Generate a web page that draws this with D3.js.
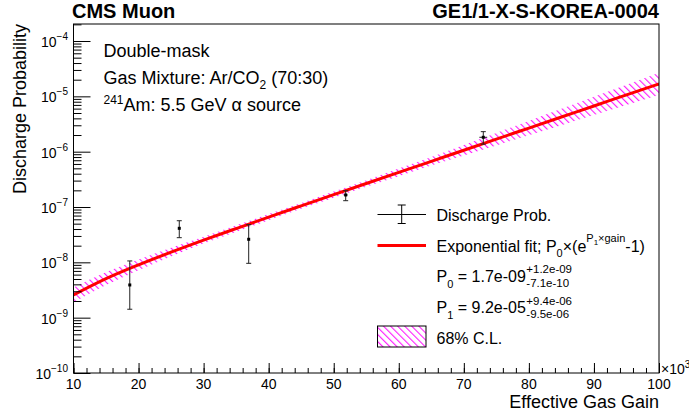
<!DOCTYPE html>
<html><head><meta charset="utf-8">
<script src="https://cdn.jsdelivr.net/npm/d3@7"></script>
<style>
html,body{margin:0;padding:0;background:#fff;}
text{font-family:"Liberation Sans",Arial,Helvetica,sans-serif;white-space:pre;fill:#000;}
</style></head>
<body>
<svg id="c" width="689" height="415"></svg>
<script>
// ---------- data ----------
const gain      = [18.65, 26.26, 36.93, 51.84, 72.99];          // x10^3
const prob      = [3.9e-9, 4.12e-8, 2.61e-8, 1.65e-7, 1.82e-6];
const probHigh  = [1.06e-8, 5.65e-8, 4.8e-8, 1.97e-7, 2.30e-6];
const probLow   = [1.42e-9, 2.79e-8, 9.6e-9, 1.30e-7, 1.37e-6];
const gainErr   = [0, 0, 0, 0.3, 0.6];

const fitGain   = [10,15,20,25,30,35,40,45,50,55,60,65,70,75,80,85,90,95,100];
const fitProb   = [2.566e-9,5.06e-9,9.00e-9,1.526e-8,2.516e-8,4.08e-8,6.57e-8,1.050e-7,1.674e-7,2.662e-7,
                   4.226e-7,6.70e-7,1.063e-6,1.685e-6,2.670e-6,4.23e-6,6.70e-6,1.062e-5,1.682e-5];
const bandUp    = [3.50e-9,6.59e-9,1.12e-8,1.83e-8,2.90e-8,4.68e-8,7.46e-8,1.183e-7,1.90e-7,3.06e-7,
                   4.97e-7,8.00e-7,1.323e-6,2.185e-6,3.60e-6,5.95e-6,9.80e-6,1.618e-5,2.67e-5];
const bandLo    = [1.88e-9,3.88e-9,7.23e-9,1.275e-8,2.18e-8,3.55e-8,5.79e-8,9.32e-8,1.475e-7,2.32e-7,
                   3.60e-7,5.61e-7,8.54e-7,1.299e-6,1.979e-6,3.01e-6,4.58e-6,6.97e-6,1.061e-5];

const xTicks    = [10,20,30,40,50,60,70,80,90,100];
const yDecades  = [-10,-9,-8,-7,-6,-5,-4];
const xRange    = [10, 100];
const yRange    = [1e-10, 2.03e-4];

// ---------- layout ----------
const L = 73.5, R = 659, T = 24, B = 373;
const svg = d3.select('#c');
svg.append('rect').attr('width',689).attr('height',415).attr('fill','#fff');

const x = d3.scaleLinear().domain(xRange).range([L, R]);
const y = d3.scaleLog().domain(yRange).range([B, T]);

const defs = svg.append('defs');
defs.append('clipPath').attr('id','clip').append('rect')
  .attr('x',L).attr('y',T).attr('width',R-L).attr('height',B-T);
const pat = defs.append('pattern').attr('id','hatch').attr('patternUnits','userSpaceOnUse')
  .attr('width',5).attr('height',5).attr('patternTransform','rotate(-45)');
pat.append('line').attr('x1',0.6).attr('y1',0).attr('x2',0.6).attr('y2',5)
  .attr('stroke','#ff00ff').attr('stroke-width',1);

const plot = svg.append('g').attr('clip-path','url(#clip)');

// band
const fitRows = fitGain.map((g,i)=>({g, v:fitProb[i], lo:bandLo[i], hi:bandUp[i]}));
plot.append('path').datum(fitRows)
  .attr('d', d3.area().x(d=>x(d.g)).y0(d=>y(d.lo)).y1(d=>y(d.hi)).curve(d3.curveMonotoneX))
  .attr('fill','url(#hatch)').attr('stroke','none');
// fit line
plot.append('path').datum(fitRows)
  .attr('d', d3.line().x(d=>x(d.g)).y(d=>y(d.v)).curve(d3.curveMonotoneX))
  .attr('fill','none').attr('stroke','#ff0000').attr('stroke-width',3);

// data points
const pts = gain.map((g,i)=>({g, v:prob[i], hi:probHigh[i], lo:probLow[i], ex:gainErr[i]}));
const pg = svg.append('g');
pts.forEach(d=>{
  const cx = x(d.g), cy = y(d.v);
  pg.append('line').attr('x1',cx).attr('x2',cx).attr('y1',y(d.hi)).attr('y2',y(d.lo))
    .attr('stroke','#222').attr('stroke-width',1);
  [d.hi,d.lo].forEach(v=>pg.append('line').attr('x1',cx-2.5).attr('x2',cx+2.5)
    .attr('y1',y(v)).attr('y2',y(v)).attr('stroke','#222').attr('stroke-width',1));
  if (d.ex>0) pg.append('line').attr('x1',x(d.g-d.ex)).attr('x2',x(d.g+d.ex))
    .attr('y1',cy).attr('y2',cy).attr('stroke','#222').attr('stroke-width',1);
  pg.append('rect').attr('x',cx-1.5).attr('y',cy-1.5).attr('width',3).attr('height',3).attr('fill','#000');
});

// axes (ticks inward)
const xMinor = d3.range(10, 100.01, 2);
svg.append('g').attr('transform',`translate(0,${B})`)
  .call(d3.axisBottom(x).tickValues(xMinor).tickSize(-5).tickFormat(''))
  .call(g=>g.select('.domain').remove());
svg.append('g').attr('transform',`translate(0,${B})`)
  .call(d3.axisBottom(x).tickValues(xTicks).tickSize(-10).tickFormat(''))
  .call(g=>g.select('.domain').remove());
const yMaj = yDecades.map(k=>Math.pow(10,k));
const yMin = [];
yDecades.forEach(k=>{ for(let m=2;m<=9;m++){ const v=m*Math.pow(10,k); if(v<=yRange[1]) yMin.push(v);} });
svg.append('g').attr('transform',`translate(${L},0)`)
  .call(d3.axisLeft(y).tickValues(yMin).tickSize(-8).tickFormat(''))
  .call(g=>g.select('.domain').remove());
svg.append('g').attr('transform',`translate(${L},0)`)
  .call(d3.axisLeft(y).tickValues(yMaj).tickSize(-17).tickFormat(''))
  .call(g=>g.select('.domain').remove());
svg.selectAll('.tick line').attr('stroke','#000').attr('stroke-width',1);

// frame
svg.append('rect').attr('x',L).attr('y',T).attr('width',R-L).attr('height',B-T)
  .attr('fill','none').attr('stroke','#000').attr('stroke-width',1);

// rich text helper
function rich(sel, xx, yy, parts, size, anchor){
  const t = sel.append('text').attr('x',xx).attr('y',yy).style('font-size',size+'px');
  if (anchor) t.attr('text-anchor',anchor);
  let cur = 0;
  parts.forEach(p=>{
    const tgt = p.dy||0;
    const ts = t.append('tspan').attr('dy', tgt-cur).text(p.t);
    if (p.fs) ts.style('font-size', p.fs+'px');
    cur = tgt;
  });
  return t;
}

// tick labels
xTicks.forEach(v=>svg.append('text').attr('x',x(v)).attr('y',389).attr('text-anchor','middle')
  .style('font-size','14px').text(v));
yDecades.forEach(k=>rich(svg, 68, y(Math.pow(10,k))+6,
  [{t:'10'},{t:'\u2212'+(-k), dy:-7, fs:10}], 14, 'end'));
rich(svg, 661, 374, [{t:'\u00d710'},{t:'3', dy:-6, fs:10}], 14);

// axis titles
svg.append('text').attr('x',R).attr('y',408).attr('text-anchor','end')
  .style('font-size','18px').text('Effective Gas Gain');
svg.append('text').attr('transform',`translate(26,${T}) rotate(-90)`).attr('text-anchor','end')
  .style('font-size','18px').text('Discharge Probability');

// titles
svg.append('text').attr('x',72).attr('y',18).style('font-size','20px').style('font-weight','bold').text('CMS Muon');
svg.append('text').attr('x',R).attr('y',18).attr('text-anchor','end').style('font-size','20px')
  .style('font-weight','bold').text('GE1/1-X-S-KOREA-0004');

// info text
svg.append('text').attr('x',103.5).attr('y',56.5).style('font-size','18px').text('Double-mask');
rich(svg, 103.5, 83.5, [{t:'Gas Mixture: Ar/CO'},{t:'2',dy:5,fs:12},{t:' (70:30)'}], 18);
rich(svg, 103.5, 110.5, [{t:'241',dy:-7,fs:12},{t:'Am: 5.5 GeV \u03b1 source'}], 18);

// legend
const lg = svg.append('g');
const sx0 = 377.5, sx1 = 426, tx = 436.5;
lg.append('line').attr('x1',sx0).attr('x2',sx1).attr('y1',214.5).attr('y2',214.5).attr('stroke','#000');
lg.append('line').attr('x1',401.7).attr('x2',401.7).attr('y1',205).attr('y2',223.5).attr('stroke','#000');
[205,223.5].forEach(v=>lg.append('line').attr('x1',397.7).attr('x2',405.7).attr('y1',v).attr('y2',v).attr('stroke','#000'));
lg.append('text').attr('x',tx).attr('y',220.5).style('font-size','16px').text('Discharge Prob.');

lg.append('line').attr('x1',sx0).attr('x2',sx1).attr('y1',245.5).attr('y2',245.5).attr('stroke','#ff0000').attr('stroke-width',3);
rich(lg, tx, 252, [{t:'Exponential fit; P'},{t:'0',dy:5,fs:11},{t:'\u00d7(e'},{t:'P',dy:-10.5,fs:11},
  {t:'1',dy:-7.5,fs:8},{t:'\u00d7gain',dy:-10.5,fs:11},{t:'-1)',dy:0,fs:16}], 16);

function paramRow(yy, name, val, up, dn){
  const t = rich(lg, tx, yy, [{t:'P'},{t:name,dy:6,fs:11},{t:' = '+val,dy:0}], 16);
  const w = t.node().getComputedTextLength();
  lg.append('text').attr('x',tx+w+0.5).attr('y',yy-8.5).style('font-size','11.5px').text(up);
  lg.append('text').attr('x',tx+w+0.5).attr('y',yy+5).style('font-size','11.5px').text(dn);
}
paramRow(281.5, '0', '1.7e-09', '+1.2e-09', '-7.1e-10');
paramRow(313, '1', '9.2e-05', '+9.4e-06', '-9.5e-06');

lg.append('rect').attr('x',sx0).attr('y',326).attr('width',sx1-sx0).attr('height',21)
  .attr('fill','url(#hatch)').attr('stroke','#000').attr('stroke-width',1);
lg.append('text').attr('x',tx).attr('y',344).style('font-size','16px').text('68% C.L.');
</script>
</body></html>
